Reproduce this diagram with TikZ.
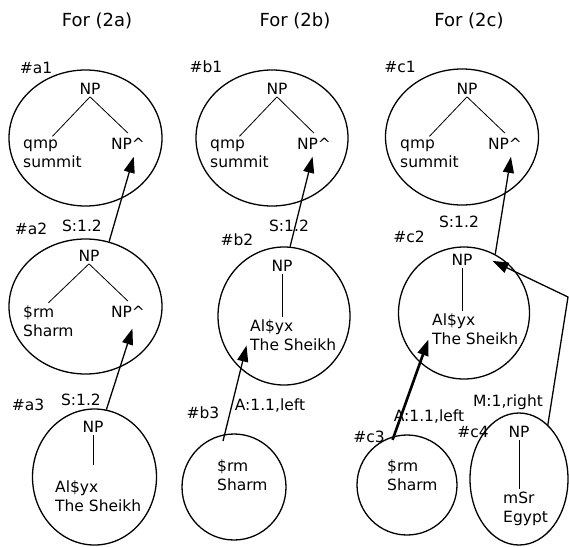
\documentclass[tikz,border=0pt]{standalone}
\usepackage{fontspec}
\setmainfont{DejaVu Sans}
\usetikzlibrary{shapes.geometric, arrows.meta}

\tikzset{
  frag/.style={draw, ellipse, line width=1.3pt, inner sep=0pt},
  cat/.style={inner sep=2pt},
  word/.style={align=left, anchor=west, inner sep=3pt},
  hd/.style={inner sep=5pt},
  edge/.style={line width=0.8pt},
  link/.style={-{Triangle[length=16pt,width=11pt]}, line width=1.3pt, shorten >=2pt},
  title/.style={font=\fontsize{18}{22}\selectfont},
}

\begin{document}
\begin{tikzpicture}[x=1pt, y=-1pt, font=\fontsize{15.5}{19}\selectfont]
  \useasboundingbox (0,0) rectangle (569,546);

  \node[title] (ta) at (97,21) {For (2a)};
  \node[title] (tb) at (295,21) {For (2b)};
  \node[title] (tc) at (469,21) {For (2c)};

  % column (2a)
  \node[frag, minimum width=153pt, minimum height=136pt] (a1) at (85.5,138) {};
  \node (a1id) at (36,68) {\#a1};
  \node[cat] (a1np) at (90,89) {NP};
  \node[word] (a1w) at (20,153.5) {qmp\\summit};
  \node[hd] (a1hd) at (128,144) {NP\textasciicircum};
  \draw[edge] (a1np.south) -- (a1w.north);
  \draw[edge] (a1np.south) -- (a1hd.north);

  \node[frag, minimum width=153pt, minimum height=135pt] (a2) at (85.5,306.5) {};
  \node (a2id) at (31,229) {\#a2};
  \node (a2s) at (82,226) {S:1.2};
  \node[cat] (a2np) at (89,256) {NP};
  \node[word] (a2w) at (20,321.5) {\$rm\\Sharm};
  \node[hd] (a2hd) at (128,312) {NP\textasciicircum};
  \draw[edge] (a2np.south) -- (a2w.north);
  \draw[edge] (a2np.south) -- (a2hd.north);

  \node[frag, minimum width=124pt, minimum height=136pt] (a3) at (94.5,477) {};
  \node (a3id) at (28,405) {\#a3};
  \node (a3s) at (81,400) {S:1.2};
  \node[cat] (a3np) at (93,427) {NP};
  \node[word] (a3w) at (52,496.5) {Al\$yx\\The Sheikh};
  \draw[edge] (a3np.south) -- ++(0,30);

  \draw[link] (a2.70) -- (a1hd.-60);
  \draw[link, shorten >=6pt] (a3.80) -- (a2hd.-60);

  % column (2b)
  \node[frag, minimum width=152pt, minimum height=136pt] (b1) at (272,138) {};
  \node (b1id) at (206,67) {\#b1};
  \node[cat] (b1np) at (277,89) {NP};
  \node[word] (b1w) at (207,153.5) {qmp\\summit};
  \node[hd] (b1hd) at (314,144) {NP\textasciicircum};
  \draw[edge] (b1np.south) -- (b1w.north);
  \draw[edge] (b1np.south) -- (b1hd.north);

  \node[frag, minimum width=132pt, minimum height=138pt] (b2) at (284,316) {};
  \node (b2id) at (237,240) {\#b2};
  \node (b2s) at (289,226) {S:1.2};
  \node[cat] (b2np) at (282,266) {NP};
  \node[word] (b2w) at (247,335.5) {Al\$yx\\The Sheikh};
  \draw[edge] (b2np.south) -- (b2w.north -| b2np.south);

  \node[frag, minimum width=104pt, minimum height=106pt] (b3) at (234,487) {};
  \node (b3id) at (203,413) {\#b3};
  \node (b3s) at (270,406) {A:1.1,left};
  \node[word] (b3w) at (214,475) {\$rm\\Sharm};

  \draw[link] (b2.85) -- (b1hd.-95);
  \draw[link, shorten <=-7pt] (b3.100) -- (b2w.190);

  % column (2c)
  \node[frag, minimum width=153pt, minimum height=136pt] (c1) at (462,137) {};
  \node (c1id) at (400,67) {\#c1};
  \node[cat] (c1np) at (467,89) {NP};
  \node[word] (c1w) at (397,153.5) {qmp\\summit};
  \node[hd] (c1hd) at (505,144) {NP\textasciicircum};
  \draw[edge] (c1np.south) -- (c1w.north);
  \draw[edge] (c1np.south) -- (c1hd.north);

  \node[frag, minimum width=131pt, minimum height=132pt] (c2) at (464,313) {};
  \node (c2id) at (409,237) {\#c2};
  \node (c2s) at (459,222) {S:1.2};
  \node[cat] (c2np) at (462,260) {NP};
  \node[word] (c2w) at (429,329.5) {Al\$yx\\The Sheikh};
  \draw[edge] (c2np.south) -- (c2w.north -| c2np.south);

  \node[frag, minimum width=100pt, minimum height=100pt] (c3) at (407,485) {};
  \node (c3id) at (369,437) {\#c3};
  \node (c3s) at (429,417) {A:1.1,left};
  \node[word] (c3w) at (384,475) {\$rm\\Sharm};

  \node[frag, minimum width=98pt, minimum height=132pt] (c4) at (519,479) {};
  \node (c4id) at (473,432) {\#c4};
  \node (c4s) at (508,402) {M:1,right};
  \node[cat] (c4np) at (519,432) {NP};
  \node[word] (c4w) at (500,509) {mSr\\Egypt};
  \draw[edge] (c4np.south) -- (c4w.north -| c4np.south);

  \coordinate (bend) at (568,297);
  \draw[link] (c2.62) -- (c1hd.-60);
  \draw[link, line width=2.6pt, shorten <=-4pt] (c3.105) -- (c2w.190);
  \draw[link] (c4.62) -- (bend) -- ([xshift=16pt]c2np.east);
\end{tikzpicture}
\end{document}
